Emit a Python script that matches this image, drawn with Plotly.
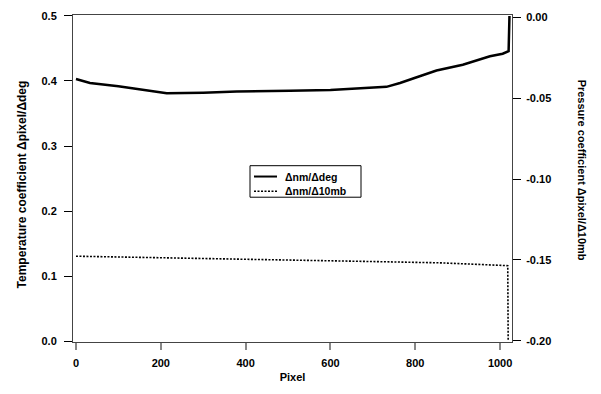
import plotly.graph_objects as go

# Data
pix_temp = [0, 33, 100, 150, 214, 300, 379, 504, 600, 732, 764, 800, 850, 912, 976, 1006, 1020, 1022]
temp_coef = [0.403, 0.397, 0.392, 0.387, 0.381, 0.382, 0.384, 0.385, 0.386, 0.391, 0.397, 0.405, 0.416, 0.425, 0.438, 0.442, 0.446, 0.5]

pix_pres = [0, 200, 400, 528, 700, 858, 1006, 1018, 1019]
pres_coef = [-0.1477, -0.1485, -0.1494, -0.1502, -0.1510, -0.1518, -0.1534, -0.1536, -0.2]

x_ticks = [0, 200, 400, 600, 800, 1000]
y_ticks = [0.0, 0.1, 0.2, 0.3, 0.4, 0.5]
y2_ticks = [0.0, -0.05, -0.10, -0.15, -0.20]

series_names = ["\u0394nm/\u0394deg", "\u0394nm/\u039410mb"]

FONT = "Liberation Sans"
tf = dict(family=FONT, size=11, color="black", weight="bold")
DOT = "2px,1.5px"

fig = go.Figure()
fig.add_trace(go.Scatter(x=pix_temp, y=temp_coef, mode="lines", name=series_names[0],
                         line=dict(color="black", width=2.5), yaxis="y"))
fig.add_trace(go.Scatter(x=pix_pres, y=pres_coef, mode="lines", name=series_names[1],
                         line=dict(color="black", width=1.6, dash=DOT), yaxis="y2"))

L, R, T, B = 73, 89, 10, 52
W, H = 601, 394
PW, PH = W - L - R, H - T - B


def px(xp):
    return (xp - L) / PW


def py(yp):
    return (H - B - yp) / PH


shapes = [
    # legend box
    dict(type="rect", xref="paper", yref="paper", x0=px(250), x1=px(361), y0=py(195), y1=py(163),
         line=dict(color="black", width=1), fillcolor="white", layer="above"),
    dict(type="line", xref="paper", yref="paper", x0=px(254), x1=px(277), y0=py(174), y1=py(174),
         line=dict(color="black", width=2), layer="above"),
    dict(type="line", xref="paper", yref="paper", x0=px(254), x1=px(277), y0=py(189), y1=py(189),
         line=dict(color="black", width=1.5, dash=DOT), layer="above"),
]

leg_font = dict(family=FONT, size=10.5, color="black", weight="bold")
annotations = [
    dict(text=series_names[0], xref="paper", yref="paper", x=px(283), y=py(174),
         xanchor="left", yanchor="middle", showarrow=False, font=leg_font),
    dict(text=series_names[1], xref="paper", yref="paper", x=px(283), y=py(189),
         xanchor="left", yanchor="middle", showarrow=False, font=leg_font),
    dict(text="Temperature coefficient \u0394pixel/\u0394deg", textangle=-90,
         xref="paper", yref="paper", x=px(22), y=py(182), xanchor="center", yanchor="middle",
         showarrow=False, font=dict(family=FONT, size=12, color="black", weight="bold")),
    dict(text="Pressure coefficient \u0394pixel/\u039410mb", textangle=90,
         xref="paper", yref="paper", x=px(582), y=py(167), xanchor="center", yanchor="middle",
         showarrow=False, font=tf),
]

fig.update_layout(
    width=W, height=H,
    margin=dict(l=L, r=R, t=T, b=B),
    plot_bgcolor="white", paper_bgcolor="white",
    font=tf,
    showlegend=False,
    xaxis=dict(range=[-7, 1028], tickvals=x_ticks, ticktext=[str(v) for v in x_ticks],
               showgrid=False, zeroline=False, showline=True, linecolor="#444", linewidth=1,
               mirror=True, ticks="outside", ticklen=7, tickcolor="#888", tickwidth=1.5,
               tickfont=tf, ticklabelstandoff=4,
               title=dict(text="Pixel", font=tf, standoff=5)),
    yaxis=dict(range=[-0.0015, 0.5015], tickvals=y_ticks, ticktext=["%.1f" % v for v in y_ticks],
               showgrid=False, zeroline=False, showline=True, linecolor="#444", linewidth=1,
               ticks="outside", ticklen=8, tickcolor="black", tickwidth=1,
               tickfont=tf, ticklabelstandoff=5),
    yaxis2=dict(range=[-0.2008, 0.0016], tickvals=y2_ticks, ticktext=["%.2f" % v for v in y2_ticks],
                overlaying="y", side="right",
                showgrid=False, zeroline=False, showline=True, linecolor="#444", linewidth=1,
                ticks="outside", ticklen=8, tickcolor="black", tickwidth=1,
                tickfont=tf, ticklabelstandoff=3),
    shapes=shapes,
    annotations=annotations,
)

fig.write_html("out.html")
